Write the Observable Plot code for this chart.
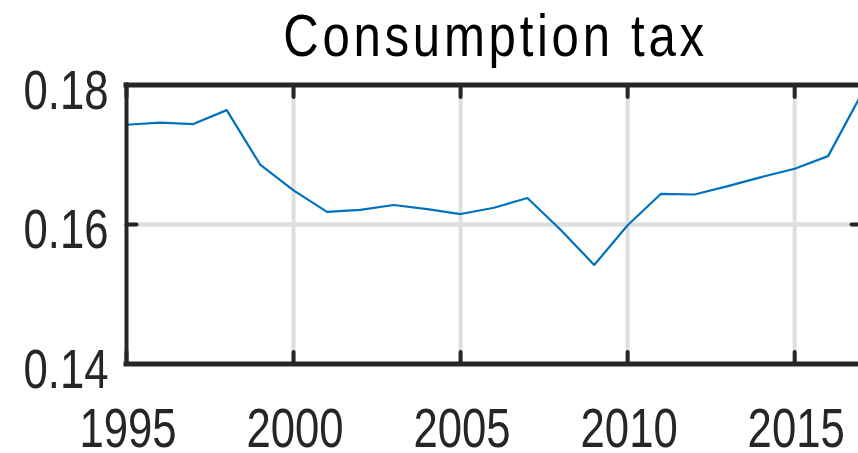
<!DOCTYPE html>
<html><head><meta charset="utf-8">
<script src="https://cdn.jsdelivr.net/npm/d3@7"></script>
<script src="https://cdn.jsdelivr.net/npm/@observablehq/plot@0.6"></script>
<style>
html,body{margin:0;padding:0;background:#fff;overflow:hidden;}
#chart svg{display:block;}
</style></head><body><div id="chart"></div>
<script>
const title = "Consumption tax";
const years = [1995,1996,1997,1998,1999,2000,2001,2002,2003,2004,2005,2006,2007,2008,2009,2010,2011,2012,2013,2014,2015,2016,2017];
const values = [0.1743,0.1746,0.1744,0.1764,0.1686,0.1649,0.1618,0.1621,0.1628,0.1622,0.1615,0.1624,0.1638,0.1592,0.1542,0.1599,0.1644,0.1643,0.1655,0.1668,0.1680,0.1698,0.1787];
const xTicks = [1995,2000,2005,2010,2015];
const yTicks = [0.14,0.16,0.18];
const xDomain = [1995,2017];
const yDomain = [0.14,0.18];

const data = years.map((year,i)=>({year, value: values[i]}));
const font = "'Liberation Sans',Arial,sans-serif";
const axisColor = "#262626";
const tickShape = {draw(ctx, l){ ctx.moveTo(0,0); ctx.lineTo(0,-l); }};

const xGrid = xTicks.filter(v => v > xDomain[0] && v < xDomain[1]);
const yGrid = yTicks.filter(v => v > yDomain[0] && v < yDomain[1]);

const chart = Plot.plot({
  width: 858, height: 453,
  marginLeft: 126, marginRight: 0, marginTop: 84.5, marginBottom: 89.5,
  x: {domain: xDomain, range: [126, 861], axis: null},
  y: {domain: yDomain, range: [363.5, 84.5], axis: null},
  style: {fontFamily: font, background: "#fff", overflow: "visible"},
  marks: [
    Plot.ruleX(xGrid, {stroke: "#dfdfdf", strokeWidth: 4}),
    Plot.ruleY(yGrid, {stroke: "#dfdfdf", strokeWidth: 4.5}),
    Plot.line(data, {x: "year", y: "value", stroke: "#0072BD", strokeWidth: 2.2}),
    Plot.ruleX(xDomain, {stroke: axisColor, strokeWidth: 4, strokeLinecap: "square"}),
    Plot.ruleY(yDomain, {stroke: axisColor, strokeWidth: 5, strokeLinecap: "square"}),
    Plot.vector(xTicks, {x: d => d, y: () => yDomain[0], length: 12, rotate: 0, anchor: "start", shape: tickShape, stroke: axisColor, strokeWidth: 4}),
    Plot.vector(xTicks, {x: d => d, y: () => yDomain[1], length: 12, rotate: 180, anchor: "start", shape: tickShape, stroke: axisColor, strokeWidth: 4}),
    Plot.vector(yTicks, {x: () => xDomain[0], y: d => d, length: 10, rotate: 90, anchor: "start", shape: tickShape, stroke: axisColor, strokeWidth: 4}),
    Plot.vector(yTicks, {x: () => xDomain[1], y: d => d, length: 10, rotate: -90, anchor: "start", shape: tickShape, stroke: axisColor, strokeWidth: 4}),
    Plot.text(xTicks, {x: d => d, y: () => yDomain[0], text: d => String(d), dy: 65, dx: 1.5, fontSize: 56, lineAnchor: "middle", fill: axisColor}),
    Plot.text(yTicks, {x: () => xDomain[0], y: d => d, text: d => d.toFixed(2), textAnchor: "end", dx: -18, dy: 6, fontSize: 56, lineAnchor: "middle", fill: axisColor}),
    Plot.text([title], {frameAnchor: "top", text: d => d, dy: -29.5, dx: 3, lineAnchor: "bottom", fontSize: 60, fill: "#000"})
  ]
});
d3.select(chart).selectAll("text").each(function(){
  const isTitle = this.textContent === title;
  const sx = isTitle ? 0.82 : 0.78;
  const t = this.getAttribute("transform") || "";
  this.setAttribute("transform", t + ` scale(${sx},1)`);
  if (isTitle) this.style.letterSpacing = "4.5px";
});
document.getElementById("chart").appendChild(chart);
</script></body></html>
